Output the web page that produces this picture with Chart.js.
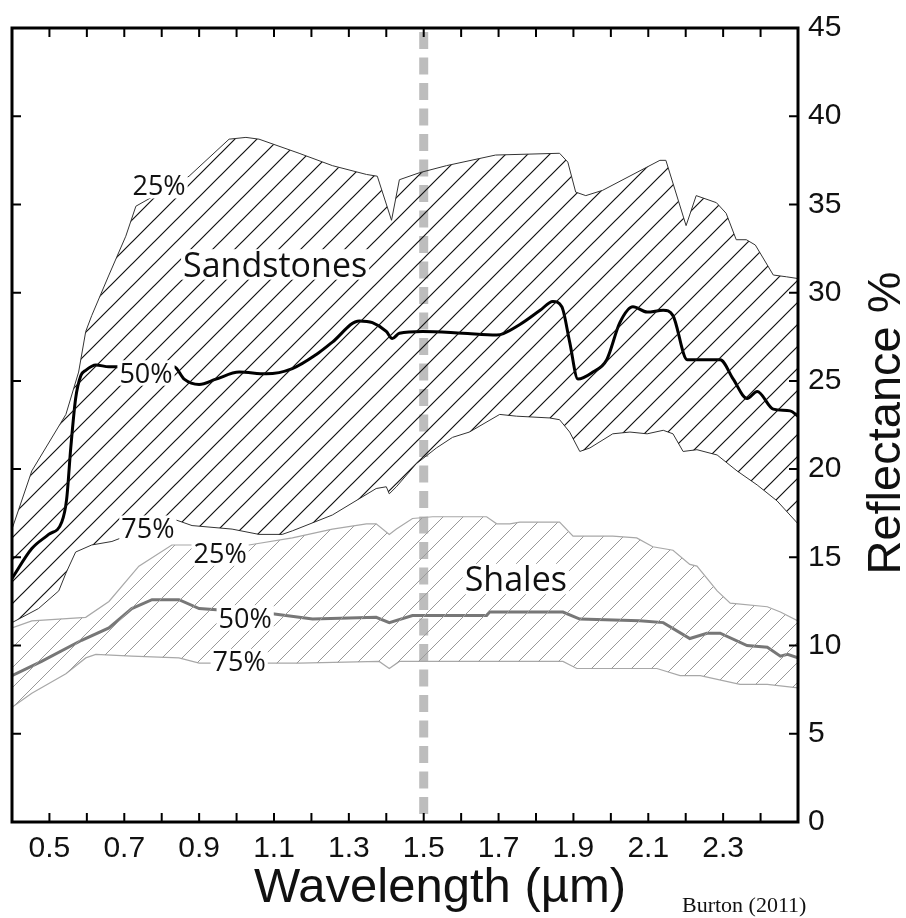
<!DOCTYPE html>
<html>
<head>
<meta charset="utf-8">
<style>
    html, body { margin: 0; padding: 0; background: #fff; }
    #wrap { width: 906px; height: 918px; }
</style>
<script src="https://cdn.jsdelivr.net/npm/chart.js@4.4.1/dist/chart.umd.min.js"></script>
</head>
<body>
<div id="wrap"><canvas id="reflectanceChart" width="906" height="918"></canvas></div>
<script>
// Reflectance spectra of sandstones and shales, Burton (2011)
// wavelength in µm, reflectance in %

const sand25Wl = [0.4, 0.453, 0.544, 0.578, 0.597, 0.613, 0.659, 0.704, 0.731, 0.873, 0.98, 1.025, 1.06, 1.167, 1.256, 1.347, 1.376, 1.414, 1.435, 1.489, 1.561, 1.692, 1.863, 1.885, 1.906, 1.933, 1.978, 2.131, 2.147, 2.201, 2.228, 2.282, 2.308, 2.335, 2.362, 2.386, 2.434, 2.469, 2.5];
const sand25Refl = [16.6, 19.9, 23.1, 25.5, 27.8, 28.7, 31.0, 33.2, 34.9, 36.6, 38.7, 38.8, 38.7, 37.9, 37.2, 36.7, 36.6, 34.1, 36.4, 36.8, 37.2, 37.8, 37.9, 37.4, 35.7, 35.5, 35.8, 37.5, 37.5, 33.8, 35.5, 35.1, 34.5, 33.0, 33.0, 32.7, 31.0, 30.9, 30.8];

const sand50Wl = [0.4, 0.453, 0.498, 0.533, 0.546, 0.557, 0.57, 0.584, 0.597, 0.624, 0.659, 0.833, 0.86, 0.9, 0.945, 1.007, 1.079, 1.149, 1.213, 1.256, 1.328, 1.363, 1.4, 1.416, 1.435, 1.497, 1.604, 1.695, 1.757, 1.811, 1.845, 1.869, 1.89, 1.912, 1.952, 1.989, 2.024, 2.059, 2.097, 2.14, 2.166, 2.204, 2.239, 2.292, 2.327, 2.364, 2.391, 2.434, 2.479, 2.5];
const sand50Refl = [13.8, 15.5, 16.3, 17.0, 18.3, 21.2, 24.0, 25.3, 25.6, 25.9, 25.8, 25.8, 25.1, 24.8, 25.1, 25.5, 25.4, 25.7, 26.5, 27.2, 28.4, 28.3, 27.8, 27.4, 27.7, 27.8, 27.7, 27.6, 28.2, 29.0, 29.5, 29.2, 27.2, 25.1, 25.5, 26.2, 28.3, 29.2, 28.9, 29.0, 28.7, 26.2, 26.2, 26.2, 25.1, 24.0, 24.4, 23.4, 23.3, 23.0];

const sand75Wl = [0.4, 0.471, 0.525, 0.544, 0.57, 0.613, 0.667, 0.827, 0.881, 0.988, 1.06, 1.122, 1.149, 1.256, 1.373, 1.4, 1.408, 1.427, 1.48, 1.534, 1.577, 1.622, 1.703, 1.748, 1.836, 1.863, 1.89, 1.917, 1.944, 2.005, 2.051, 2.097, 2.14, 2.166, 2.193, 2.23, 2.284, 2.337, 2.391, 2.444, 2.5];
const sand75Refl = [11.3, 12.1, 13.1, 14.1, 15.3, 15.7, 15.9, 17.2, 16.8, 16.6, 16.3, 16.3, 16.5, 17.4, 18.9, 19.0, 18.6, 19.0, 20.3, 21.2, 21.8, 22.1, 23.1, 23.0, 22.9, 22.8, 22.1, 21.0, 21.2, 22.0, 22.1, 22.0, 22.2, 22.0, 21.0, 21.1, 20.8, 19.9, 19.1, 18.2, 16.9];

const shale25Wl = [0.4, 0.453, 0.597, 0.659, 0.739, 0.827, 1.033, 1.149, 1.256, 1.347, 1.373, 1.408, 1.427, 1.47, 1.524, 1.668, 1.695, 1.73, 1.757, 1.863, 1.899, 2.005, 2.069, 2.112, 2.166, 2.211, 2.23, 2.284, 2.319, 2.418, 2.453, 2.5];
const shale25Refl = [11.0, 11.4, 11.6, 12.5, 14.5, 15.7, 15.7, 16.1, 16.6, 16.9, 16.9, 16.3, 16.6, 17.2, 17.3, 17.3, 16.9, 16.9, 17.0, 17.0, 16.2, 16.2, 16.1, 15.6, 15.4, 14.6, 14.5, 13.1, 12.4, 12.2, 11.9, 11.4];

const shale50Wl = [0.4, 0.479, 0.586, 0.659, 0.72, 0.774, 0.846, 0.9, 1.096, 1.203, 1.373, 1.408, 1.47, 1.668, 1.676, 1.872, 1.917, 2.077, 2.14, 2.211, 2.257, 2.292, 2.364, 2.418, 2.453, 2.472, 2.5];
const shale50Refl = [8.3, 9.1, 10.3, 11.0, 12.1, 12.6, 12.6, 12.1, 11.8, 11.5, 11.6, 11.3, 11.7, 11.7, 11.9, 11.9, 11.5, 11.4, 11.3, 10.4, 10.7, 10.7, 10.0, 9.9, 9.4, 9.5, 9.3];

const shale75Wl = [0.4, 0.453, 0.544, 0.597, 0.624, 0.72, 0.846, 0.9, 1.167, 1.381, 1.408, 1.435, 1.872, 1.909, 2.032, 2.123, 2.185, 2.239, 2.345, 2.418, 2.5];
const shale75Refl = [6.5, 7.3, 8.4, 9.3, 9.5, 9.4, 9.3, 9.0, 9.0, 9.1, 8.7, 9.1, 9.1, 8.7, 8.7, 8.7, 8.3, 8.3, 7.8, 7.8, 7.6];

// axis ticks
const xTickValues = [0.5, 0.6, 0.7, 0.8, 0.9, 1.0, 1.1, 1.2, 1.3, 1.4, 1.5, 1.6, 1.7, 1.8, 1.9, 2.0, 2.1, 2.2, 2.3, 2.4];
const xTickLabels = [0.5, 0.7, 0.9, 1.1, 1.3, 1.5, 1.7, 1.9, 2.1, 2.3];
const yTickValues = [0, 5, 10, 15, 20, 25, 30, 35, 40, 45];
const markerWl = 1.5;

// text placed on the plot (data coordinates)
const plotLabels = [
    { text: '25%', wl: 0.793, refl: 36.06, size: 27 },
    { text: 'Sandstones', wl: 1.103, refl: 31.6, size: 34 },
    { text: '50%', wl: 0.758, refl: 25.45, size: 27 },
    { text: '75%', wl: 0.763, refl: 16.65, size: 27 },
    { text: '25%', wl: 0.956, refl: 15.24, size: 27 },
    { text: 'Shales', wl: 1.746, refl: 13.77, size: 34 },
    { text: '50%', wl: 1.023, refl: 11.57, size: 27 },
    { text: '75%', wl: 1.007, refl: 9.09, size: 27 }
];

function toPoints(xs, ys) {
    return xs.map((x, i) => ({ x: x, y: ys[i] }));
}

function hatch(color, step, width) {
    const tile = document.createElement('canvas');
    tile.width = step;
    tile.height = step;
    const c = tile.getContext('2d');
    c.strokeStyle = color;
    c.lineWidth = width;
    c.beginPath();
    c.moveTo(-1, step + 1); c.lineTo(step + 1, -1);
    c.moveTo(-1, 1); c.lineTo(1, -1);
    c.moveTo(step - 1, step + 1); c.lineTo(step + 1, step - 1);
    c.stroke();
    return c.createPattern(tile, 'repeat');
}

const sandHatch = hatch('#111', 22, 1.2);
const shaleHatch = hatch('#999', 20, 1);

const sansFont = '"Liberation Sans", Arial, sans-serif';
const labelFont = '"Open Sans", "Noto Sans", sans-serif';

const decorations = {
    id: 'decorations',
    beforeDatasetsDraw(chart) {
        const { ctx, chartArea: a, scales: { x } } = chart;
        const px = x.getPixelForValue(markerWl);
        ctx.save();
        ctx.strokeStyle = '#bdbdbd';
        ctx.lineWidth = 9;
        ctx.setLineDash([17, 8.5]);
        ctx.beginPath();
        ctx.moveTo(px, a.top + 4);
        ctx.lineTo(px, a.bottom);
        ctx.stroke();
        ctx.restore();
    },
    afterDatasetsDraw(chart) {
        const { ctx, chartArea: a, scales: { x, y } } = chart;
        ctx.save();

        // labels knocked out of the hatching
        ctx.textAlign = 'center';
        ctx.textBaseline = 'alphabetic';
        plotLabels.forEach(l => {
            ctx.font = l.size + 'px ' + labelFont;
            const w = ctx.measureText(l.text).width;
            const cap = l.size * 0.72;
            const cx = x.getPixelForValue(l.wl);
            const cy = y.getPixelForValue(l.refl);
            ctx.fillStyle = '#fff';
            ctx.fillRect(cx - w / 2 - 2, cy - cap / 2 - 3, w + 4, cap + 6);
            ctx.fillStyle = '#111';
            ctx.fillText(l.text, cx, cy + cap / 2);
        });

        // frame and inward ticks
        ctx.strokeStyle = '#000';
        ctx.lineWidth = 2;
        ctx.beginPath();
        xTickValues.forEach(v => {
            const px = x.getPixelForValue(v);
            ctx.moveTo(px, a.top); ctx.lineTo(px, a.top + 9);
            ctx.moveTo(px, a.bottom); ctx.lineTo(px, a.bottom - 9);
        });
        yTickValues.forEach(v => {
            const py = y.getPixelForValue(v);
            ctx.moveTo(a.left, py); ctx.lineTo(a.left + 9, py);
            ctx.moveTo(a.right, py); ctx.lineTo(a.right - 9, py);
        });
        ctx.stroke();
        ctx.lineWidth = 3;
        ctx.strokeRect(a.left, a.top, a.right - a.left, a.bottom - a.top);
        ctx.restore();
    },
    afterDraw(chart) {
        const { ctx, chartArea: a } = chart;
        ctx.save();
        ctx.fillStyle = '#111';
        ctx.textBaseline = 'alphabetic';

        ctx.font = '49px ' + sansFont;
        ctx.textAlign = 'center';
        ctx.fillText('Wavelength (µm)', a.left + 428, 902);

        ctx.save();
        ctx.translate(a.right + 102, 423);
        ctx.rotate(-Math.PI / 2);
        ctx.font = '47px ' + sansFont;
        ctx.fillText('Reflectance %', 0, 0);
        ctx.restore();

        ctx.font = '22px "Liberation Serif", "Times New Roman", serif';
        ctx.textAlign = 'left';
        ctx.fillText('Burton (2011)', 682, 912);
        ctx.restore();
    }
};

const thinSand = { borderColor: '#333', borderWidth: 1 };
const thinShale = { borderColor: '#a8a8a8', borderWidth: 1.2 };

const ctx = document.getElementById('reflectanceChart').getContext('2d');
const reflectanceChart = new Chart(ctx, {
    type: 'line',
    data: {
        datasets: [
            Object.assign({ label: 'Sandstones 25%', data: toPoints(sand25Wl, sand25Refl), fill: '+2', backgroundColor: sandHatch }, thinSand),
            { label: 'Sandstones 50%', data: toPoints(sand50Wl, sand50Refl), borderColor: '#000', borderWidth: 3, cubicInterpolationMode: 'monotone', fill: false },
            Object.assign({ label: 'Sandstones 75%', data: toPoints(sand75Wl, sand75Refl), fill: false }, thinSand),
            Object.assign({ label: 'Shales 25%', data: toPoints(shale25Wl, shale25Refl), fill: '+2', backgroundColor: shaleHatch }, thinShale),
            { label: 'Shales 50%', data: toPoints(shale50Wl, shale50Refl), borderColor: '#777', borderWidth: 3, fill: false },
            Object.assign({ label: 'Shales 75%', data: toPoints(shale75Wl, shale75Refl), fill: false }, thinShale)
        ]
    },
    options: {
        responsive: false,
        animation: false,
        events: [],
        layout: { padding: { left: 12, top: 24, right: 0, bottom: 0 } },
        elements: { point: { radius: 0 }, line: { tension: 0 } },
        plugins: {
            legend: { display: false },
            tooltip: { enabled: false }
        },
        scales: {
            x: {
                type: 'linear',
                min: 0.4,
                max: 2.5,
                afterBuildTicks: scale => { scale.ticks = xTickValues.map(v => ({ value: v })); },
                afterFit: scale => { scale.height = 96; },
                grid: { display: false, drawTicks: false },
                border: { display: false },
                ticks: {
                    autoSkip: false,
                    maxRotation: 0,
                    padding: 9,
                    color: '#111',
                    font: { family: sansFont, size: 30 },
                    callback: v => xTickLabels.some(t => Math.abs(t - v) < 1e-6) ? v.toFixed(1) : ''
                }
            },
            y: {
                position: 'right',
                min: 0,
                max: 45,
                afterFit: scale => { scale.width = 108; },
                grid: { display: false, drawTicks: false },
                border: { display: false },
                ticks: {
                    stepSize: 5,
                    padding: 10,
                    color: '#111',
                    font: { family: sansFont, size: 30 }
                }
            }
        }
    },
    plugins: [decorations]
});
</script>
</body>
</html>
